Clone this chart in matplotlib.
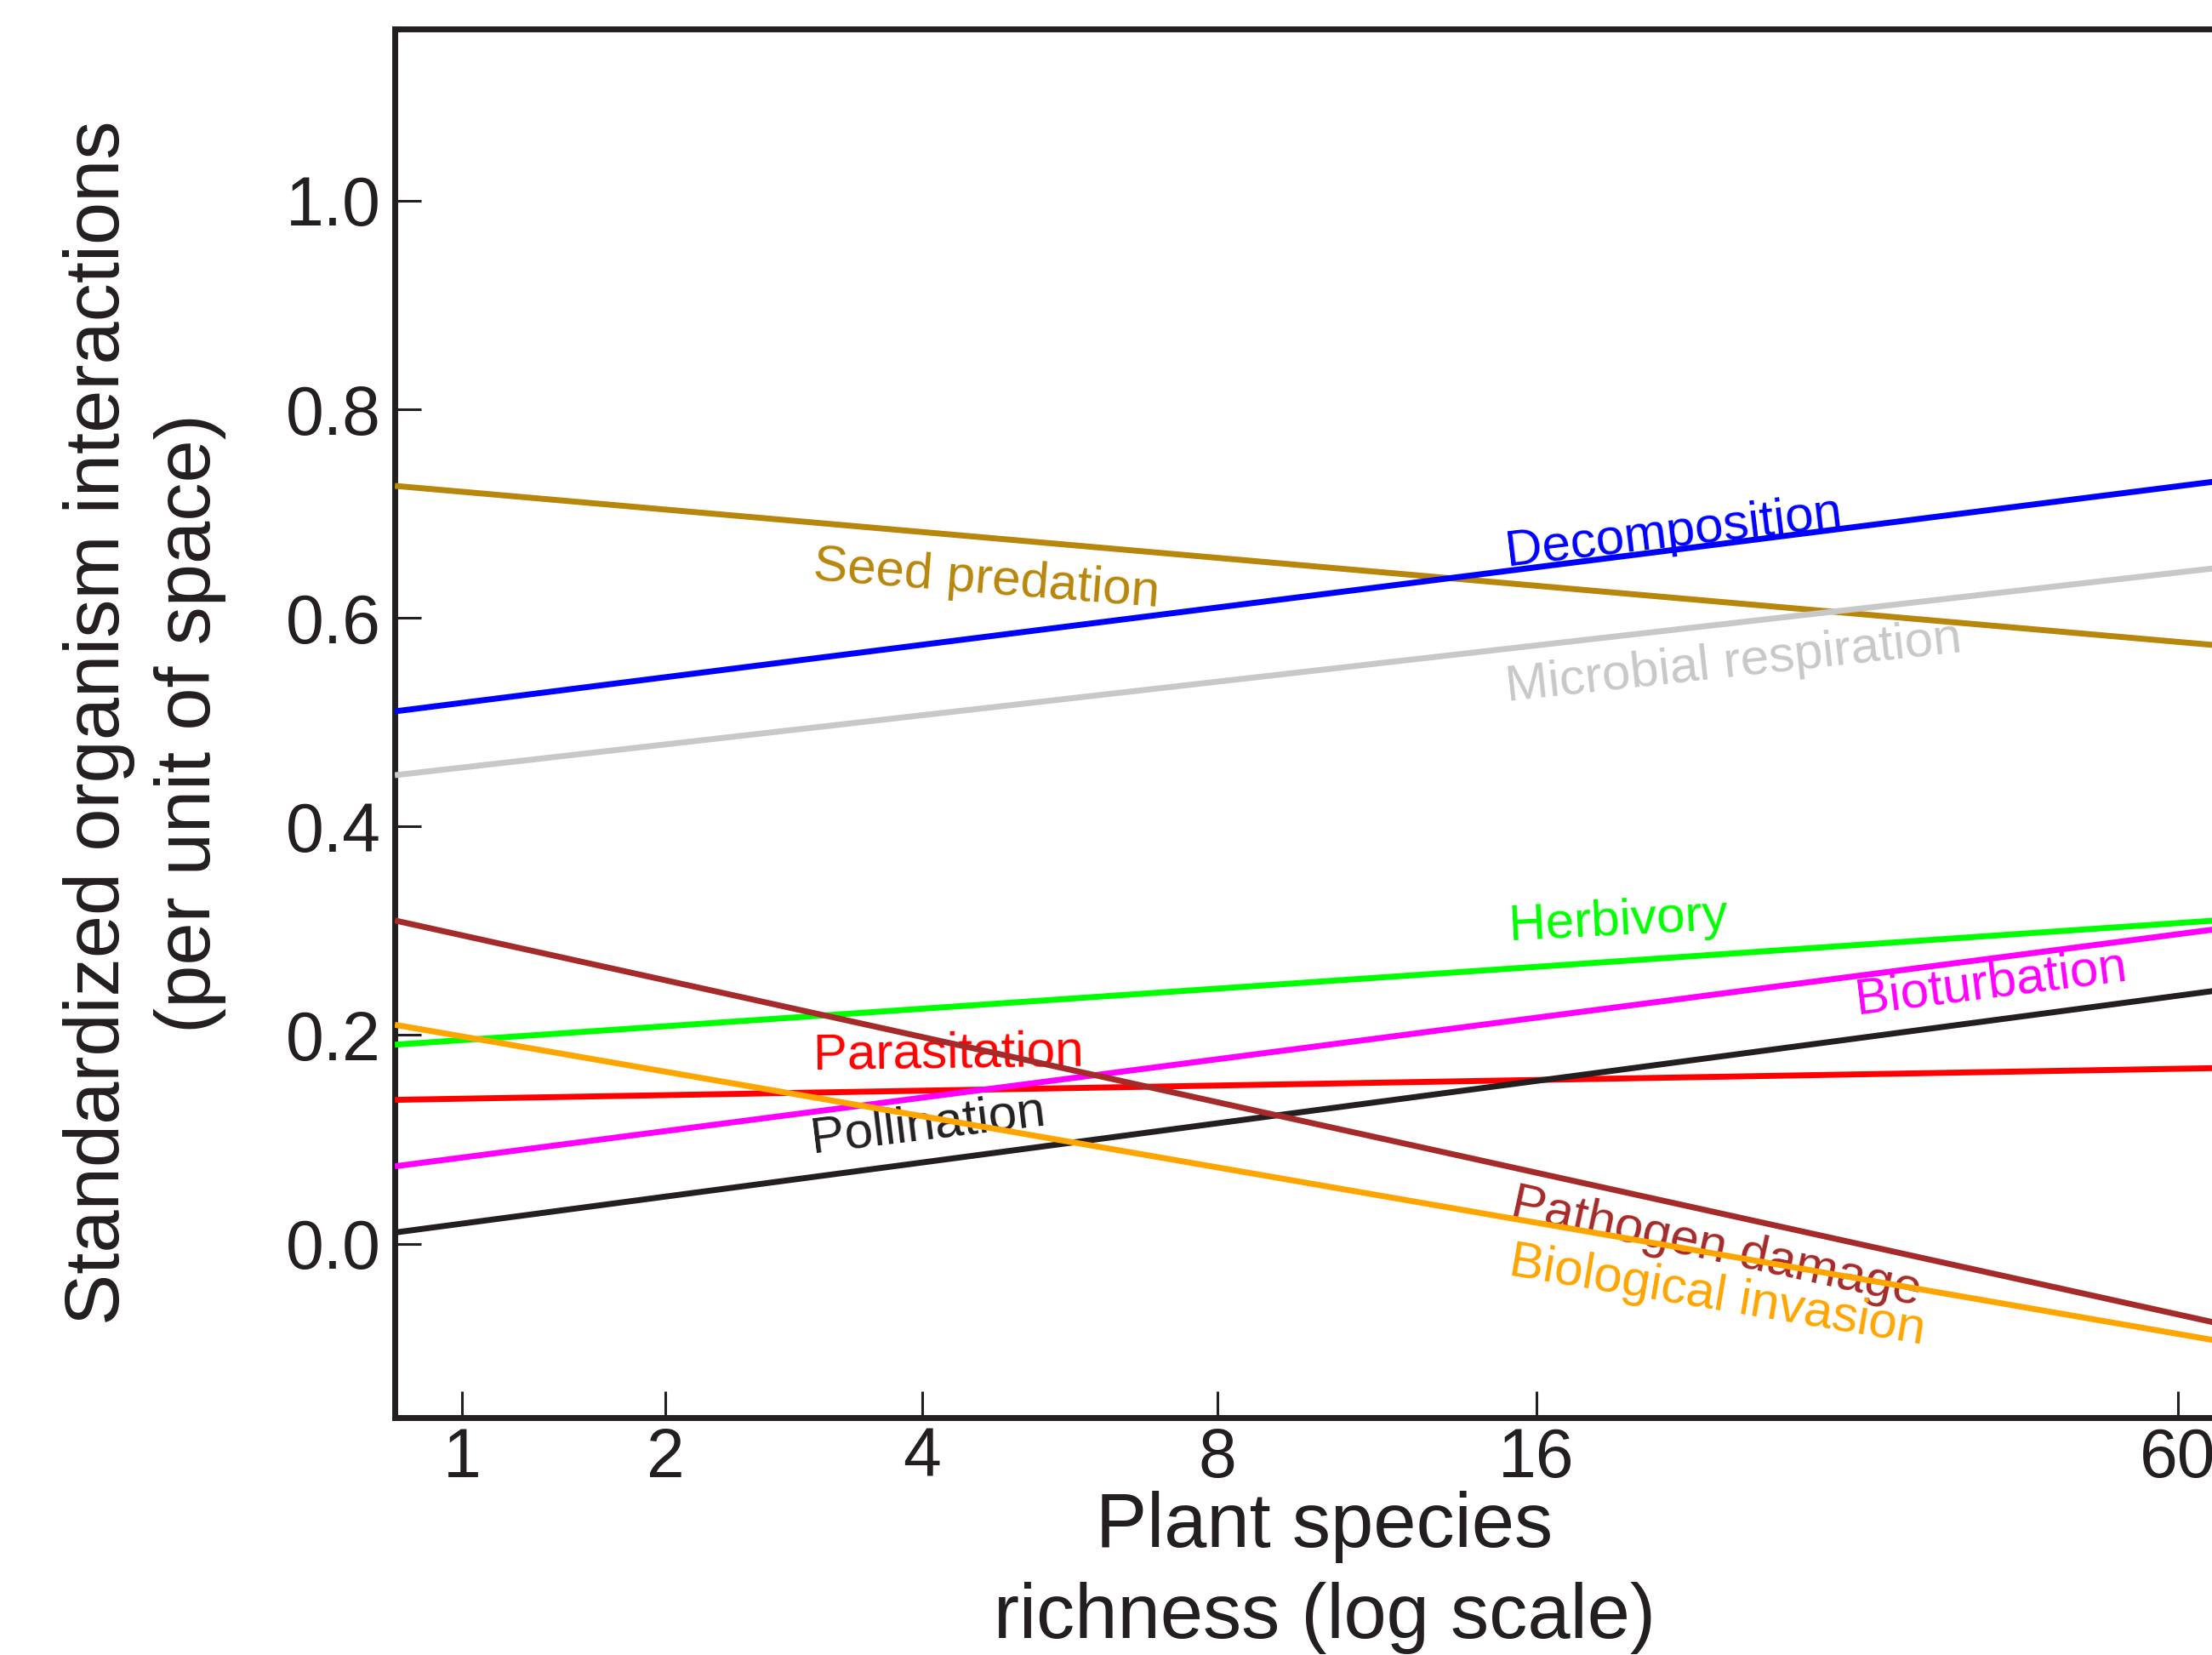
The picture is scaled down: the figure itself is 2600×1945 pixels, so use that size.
import numpy as np
import matplotlib
matplotlib.use("Agg")
import matplotlib.pyplot as plt
from matplotlib.ticker import NullLocator

plt.rcParams['font.family'] = ['Liberation Sans', 'DejaVu Sans']

# ---------------- data ----------------
richness_ends = [0.75, 70]          # plant species richness at the ends of each fitted line
x_ticks = [1, 2, 4, 8, 16, 60]
x_ticklabels = ['1', '2', '4', '8', '16', '60']
y_ticks = [0.0, 0.2, 0.4, 0.6, 0.8, 1.0]
y_ticklabels = ['0.0', '0.2', '0.4', '0.6', '0.8', '1.0']

names = ['Seed predation', 'Decomposition', 'Microbial respiration', 'Herbivory',
         'Parasitation', 'Bioturbation', 'Pollination', 'Pathogen damage',
         'Biological invasion']
seed_predation = [0.7266, 0.5706]
decomposition = [0.5104, 0.7355]
microbial_respiration = [0.4492, 0.6519]
herbivory = [0.1908, 0.3124]
parasitation = [0.1379, 0.1690]
bioturbation = [0.0742, 0.3063]
pollination = [0.0107, 0.2475]
pathogen_damage = [0.3099, -0.0840]
biological_invasion = [0.2099, -0.0992]
series = [seed_predation, decomposition, microbial_respiration, herbivory,
          parasitation, bioturbation, pollination, pathogen_damage,
          biological_invasion]
colors = ['#B8860B', '#0000FF', '#C7C8CA', '#00FF00', '#FF0000', '#FF00FF',
          '#231F20', '#A52A2A', '#FFA500']

# label anchors (richness, value) and rotation
label_x = [3.02, 15.05, 15.05, 15.12, 3.03, 31.2, 3.02, 15.1, 15.05]
label_y = [0.637, 0.650, 0.520, 0.291, 0.167, 0.220, 0.087, 0.026, -0.030]
label_rot = [-4.5, 6.8, 6.2, 3.0, 0.8, 7.2, 6.9, -12.3, -9.5]

# ---------------- figure ----------------
ink = '#231F20'
fig = plt.figure(figsize=(13, 9.725), dpi=200)
ax = fig.add_axes([0.1785, 0.1436, 0.8406, 0.8391])

ax.set_xscale('function', functions=(lambda x: np.log(np.asarray(x) + 1.0),
                                     lambda u: np.exp(np.asarray(u)) - 1.0))

for vals, c in zip(series, colors):
    ax.plot(richness_ends, vals, color=c, lw=2.5, solid_capstyle='butt', zorder=3)

for name, c, lx, ly, r in zip(names, colors, label_x, label_y, label_rot):
    ax.text(lx, ly, name, color=c, fontsize=21.7, rotation=r,
            rotation_mode='anchor', ha='left', va='baseline', zorder=2)

ax.set_xlim(richness_ends[0], richness_ends[1])
ax.set_ylim(-0.1665, 1.165)
ax.set_xticks(x_ticks)
ax.set_xticklabels(x_ticklabels)
ax.xaxis.set_minor_locator(NullLocator())
ax.set_yticks(y_ticks)
ax.set_yticklabels(y_ticklabels)

ax.tick_params(axis='both', direction='in', length=11, width=1.1, color=ink,
               labelcolor=ink, labelsize=29, top=False, right=False)
ax.tick_params(axis='y', pad=6)
ax.tick_params(axis='x', pad=4)

for side in ['left', 'bottom', 'top']:
    ax.spines[side].set_linewidth(2.5)
    ax.spines[side].set_color(ink)
ax.spines['right'].set_visible(False)

ax.set_ylabel('Standardized organism interactions\n(per unit of space)',
              fontsize=32.5, color=ink, linespacing=1.33)
ax.yaxis.set_label_coords(-0.0906, 0.5)
ax.set_xlabel('Plant species\nrichness (log scale)', fontsize=32.5, color=ink,
              linespacing=1.33)
ax.xaxis.set_label_coords(0.5, -0.053)

fig.savefig('out.png', dpi=200)
